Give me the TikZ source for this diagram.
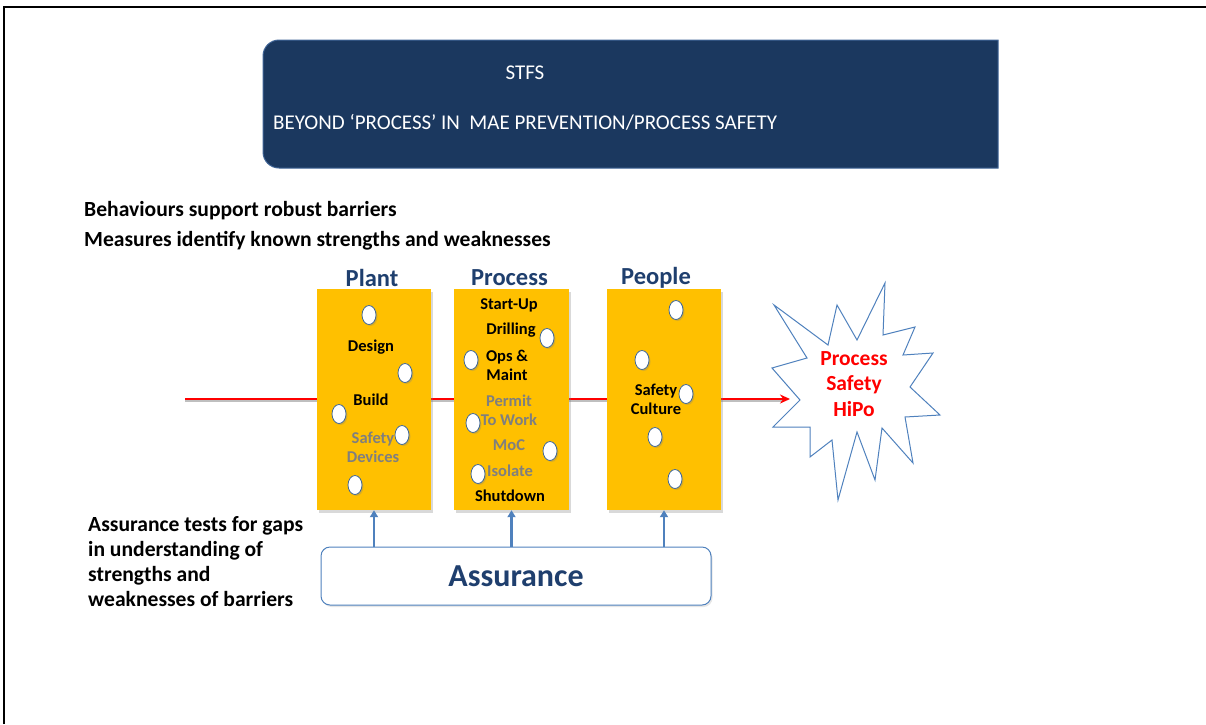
\documentclass[tikz,border=0pt]{standalone}
\usepackage{fontspec}
\setmainfont{Carlito}
\usetikzlibrary{positioning,shapes.geometric,arrows.meta,shadows}
\definecolor{navy}{HTML}{1B385F}
\definecolor{navyedge}{HTML}{3F6496}
\definecolor{gold}{HTML}{FFC000}
\definecolor{barblue}{HTML}{1F3F6E}
\definecolor{steel}{HTML}{4F81BD}
\definecolor{greytext}{HTML}{7F7F7F}
\tikzset{
  barrier/.style={rectangle, fill=gold, minimum width=114pt, minimum height=221pt, inner sep=0pt, drop shadow={shadow xshift=2pt, shadow yshift=-3pt, opacity=.3}},
  bartitle/.style={font=\bfseries\fontsize{24.5}{26}\selectfont, text=barblue},
  hole/.style={ellipse, fill=white, draw=steel!80!black, line width=0.8pt, minimum width=14pt, minimum height=19pt, inner sep=0pt, drop shadow={shadow xshift=1.5pt, shadow yshift=-1.5pt, opacity=.3}},
  item/.style={font=\bfseries\fontsize{16.5}{19}\selectfont, align=center, inner sep=0pt},
  weak/.style={item, text=greytext},
  note/.style={font=\bfseries\fontsize{21.6}{25}\selectfont, anchor=west, align=left, inner sep=0pt},
  uparrow/.style={draw=steel, line width=2.6pt, -{Triangle[length=7pt, width=8pt]}}
}
\begin{document}
\begin{tikzpicture}[x=1pt, y=-1pt]
\useasboundingbox (0,0) rectangle (1206,724);
\draw[line width=2pt] (4,724) -- (4,7) -- (1206,7);

\path[fill=navy, draw=navyedge, line width=1pt] (998,40) [rounded corners=16pt] -- (263,40) -- (263,168) [sharp corners] -- (998,168) -- cycle;
\node[text=white, font=\fontsize{21}{24}\selectfont] (stfs) at (525,73) {STFS};
\node[text=white, font=\fontsize{21}{24}\selectfont, anchor=west, inner sep=0pt] (beyond) at (273,122) {BEYOND ‘PROCESS’ IN\ \ MAE PREVENTION/PROCESS SAFETY};

\node[note] (behave) at (84,211) {Behaviours support robust barriers};
\node[note] (measure) at (84,241) {Measures identify known strengths and weaknesses};

\coordinate (src) at (185,399);
\coordinate (hit) at (790,399);
\draw[black, opacity=.25, line width=2.5pt] ([yshift=-2pt]src) -- ([yshift=-2pt, xshift=-8pt]hit);
\draw[red, line width=2.5pt, -{Stealth[length=10pt, width=9pt]}] (src) -- (hit);

\node[barrier] (plant) at (374,399.5) {};
\node[barrier, minimum width=115pt] (process) at (511.5,399.5) {};
\node[barrier] (people) at (664,399.5) {};
\node[bartitle] at ([xshift=-2pt, yshift=11pt]plant.north) (plantT) {Plant};
\node[bartitle] at ([xshift=-2pt, yshift=11pt]process.north) (processT) {Process};
\node[bartitle] at ([xshift=-8pt, yshift=11pt]people.north) (peopleT) {People};

\node[item] (design) at (371,347) {Design};
\node[item] (build) at (371,400) {Build};
\node[weak] (devices) at (373,447) {Safety\\Devices};
\node[hole] (pl1) at (369,315) {};
\node[hole] (pl2) at (405,373) {};
\node[hole] (pl3) at (339,414) {};
\node[hole] (pl4) at (402,435) {};
\node[hole] (pl5) at (355,485) {};

\node[item] (startup) at (509,305) {Start-Up};
\node[item] (drilling) at (511,330) {Drilling};
\node[item] (opsmaint) at (507,365) {Ops \&\\Maint};
\node[weak] (permit) at (509,410) {Permit\\To Work};
\node[weak] (moc) at (509,445) {MoC};
\node[weak] (isolate) at (510,471) {Isolate};
\node[item] (shutdown) at (510,496) {Shutdown};
\node[hole] (pr1) at (547,338) {};
\node[hole] (pr2) at (471,360) {};
\node[hole] (pr3) at (473,423) {};
\node[hole] (pr4) at (550,451) {};
\node[hole] (pr5) at (478,474) {};

\node[item] (culture) at (656,399) {Safety\\Culture};
\node[hole] (pe1) at (676,310) {};
\node[hole] (pe2) at (642,360) {};
\node[hole] (pe3) at (686,394) {};
\node[hole] (pe4) at (655,437) {};
\node[hole] (pe5) at (675,479) {};

\draw[steel, line width=1pt, fill=white] (885,283) -- (883,335) -- (915,327) -- (903,355) -- (933,353) -- (910,387) -- (940,415) -- (905,417) -- (913,463) -- (882,428) -- (875,480) -- (857,432) -- (838,500) -- (832,440) -- (810,457) -- (810,427) -- (773,427) -- (800,400) -- (772,368) -- (807,358) -- (774,305) -- (828,345) -- (837,305) -- (857,340) -- cycle;
\node[text=red, font=\bfseries\fontsize{21.5}{25.5}\selectfont, align=center] (hipo) at (854,384) {Process\\Safety\\HiPo};

\node[rectangle, rounded corners=9pt, draw=steel, line width=1pt, fill=white, minimum width=390pt, minimum height=58pt, text=barblue, font=\bfseries\fontsize{32}{34}\selectfont, drop shadow={shadow xshift=1.5pt, shadow yshift=-2pt, opacity=.2}] (assure) at (516,576) {Assurance};
\draw[uparrow] (assure.north -| plant.south) -- (plant.south);
\draw[uparrow] (assure.north -| process.south) -- (process.south);
\draw[uparrow] (assure.north -| people.south) -- (people.south);

\node[note] (gaps) at (88,561.5) {Assurance tests for gaps\\in understanding of\\strengths and\\weaknesses of barriers};
\end{tikzpicture}
\end{document}
